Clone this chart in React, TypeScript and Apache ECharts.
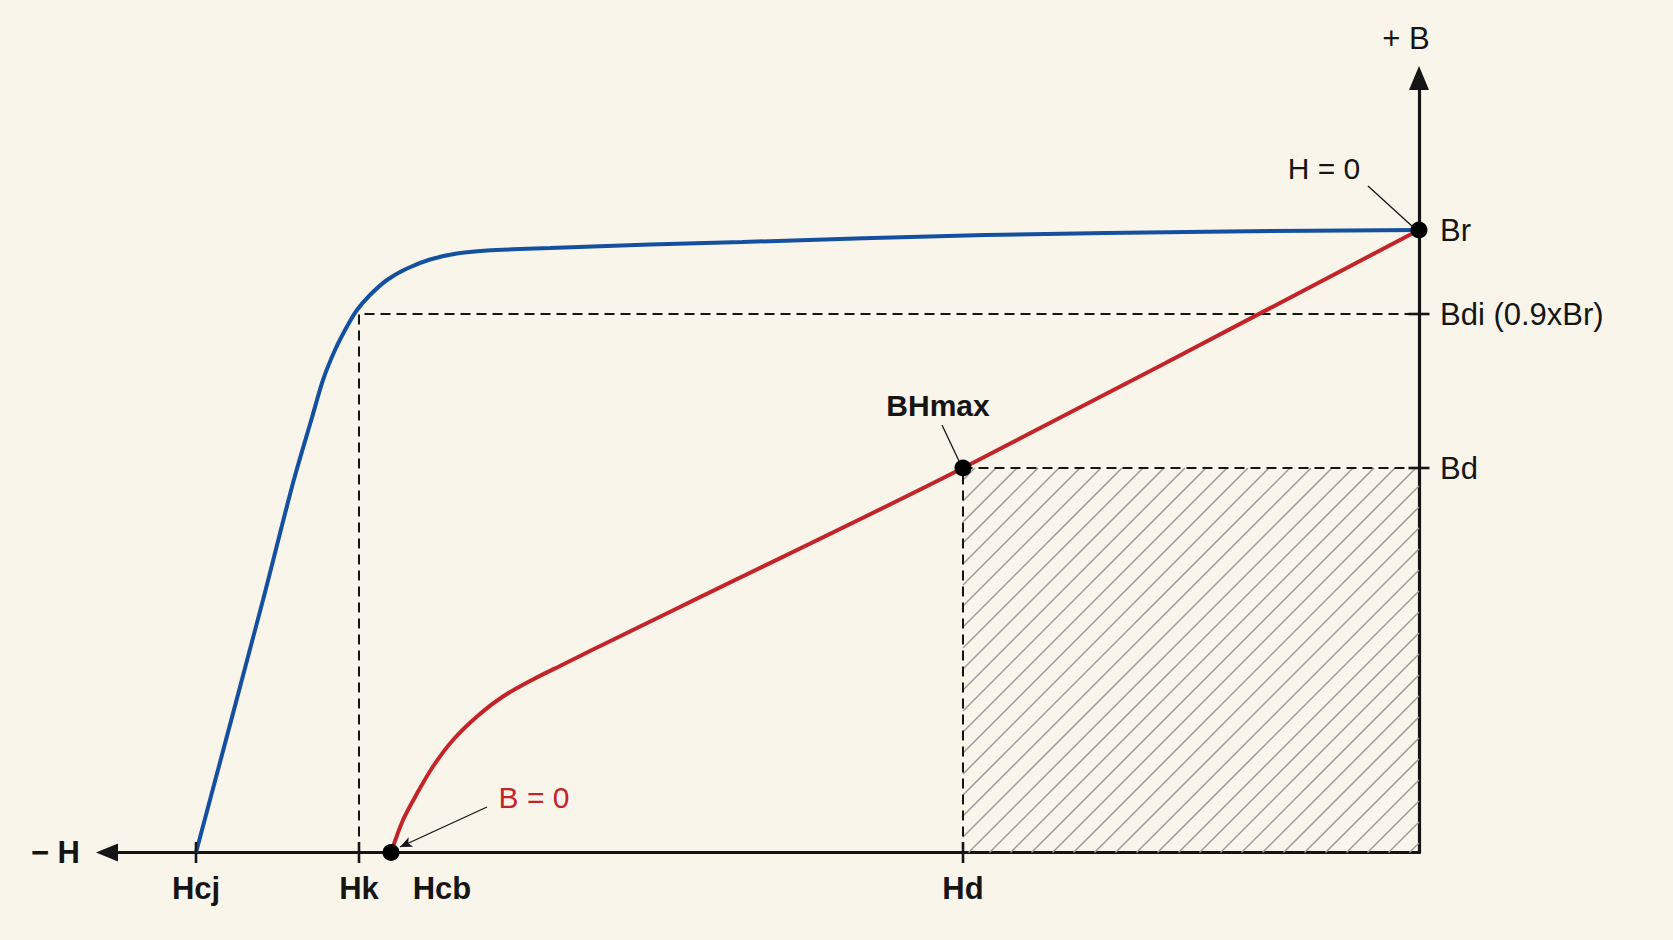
import { useEffect, useRef } from 'react';
import * as echarts from 'echarts';

// axis extents (H is negative to the left of the B axis)
const H_MIN = -1312;
const B_MAX = 774.5;

const hTickNames = ['Hcj', 'Hk', 'Hcb', 'Hd'];
const hTickValues = [-1223, -1060, -1028, -456];
const bTickNames = ['Br', 'Bdi (0.9xBr)', 'Bd'];
const bTickValues = [622.5, 538.5, 384.5];

// intrinsic curve (blue), Hcj -> Br
const intrinsicCurve: [number, number][] = [
  [-1223, 0], [-1156, 252.5], [-1126, 369.5], [-1107, 435], [-1096, 472.5],
  [-1084, 502.5], [-1072, 526], [-1062, 542.5], [-1049, 557.5], [-1032, 572.5],
  [-1012, 584], [-989, 593], [-962, 599], [-932, 602], [-899, 603.5],
  [-869, 604.5], [-769, 608], [-677, 610.5], [-434, 617.5], [-192, 621], [0, 622.5],
];

// normal curve (red), Hcb -> Br
const normalCurve: [number, number][] = [
  [-1028, 0], [-1016, 32.5], [-1002, 59], [-986, 86], [-966, 112.5],
  [-942, 136], [-916, 156], [-886, 173], [-856, 188], [-829, 201.5],
  [-736, 247], [-456, 384.5], [0, 622.5],
];

const INK = '#151515';
const BLUE = '#1450a0';
const RED = '#c3242a';
const BG = '#faf5ea';
const FONT = '"Liberation Sans", Arial, sans-serif';

export default function App() {
  const chartRef = useRef<HTMLDivElement>(null);

  useEffect(() => {
    if (!chartRef.current) return;
    const chart = echarts.init(chartRef.current, null, { renderer: 'svg' });

    const [Hcj, Hk, Hcb, Hd] = hTickValues;
    const [Br, Bdi, Bd] = bTickValues;

    const text = { fontFamily: FONT, color: INK, fontSize: 30 };

    const option: any = {
      backgroundColor: BG,
      animation: false,
      grid: { left: 107, right: 254, top: 78, bottom: 87.5 },
      xAxis: {
        type: 'value',
        min: H_MIN,
        max: 0,
        name: '\u2212 H',
        nameLocation: 'start',
        nameGap: 27,
        nameTextStyle: { ...text, fontSize: 31, fontWeight: 'bold' },
        axisLine: {
          show: true,
          onZero: false,
          symbol: ['triangle', 'none'],
          symbolSize: [18, 22],
          lineStyle: { color: INK, width: 3.2 },
        },
        axisTick: { show: false },
        splitLine: { show: false },
        axisLabel: {
          show: true,
          customValues: hTickValues,
          margin: 20,
          ...text,
          fontSize: 31,
          fontWeight: 'bold',
          formatter: (v: number) => {
            const name = hTickNames[hTickValues.indexOf(v)] ?? '';
            return name === 'Hcb' ? `{shift|${name}}` : name;
          },
          rich: {
            shift: { ...text, fontSize: 31, fontWeight: 'bold', padding: [0, 0, 0, 102] },
          },
        },
      },
      yAxis: {
        type: 'value',
        min: 0,
        max: B_MAX,
        position: 'right',
        name: '+ B',
        nameLocation: 'end',
        nameGap: 24,
        nameTextStyle: { ...text, fontSize: 31, padding: [0, 26, 0, 0] },
        axisLine: {
          show: true,
          onZero: false,
          symbol: ['none', 'triangle'],
          symbolSize: [20, 24],
          lineStyle: { color: INK, width: 3.2 },
        },
        axisTick: { show: false },
        splitLine: { show: false },
        axisLabel: {
          show: true,
          customValues: bTickValues,
          margin: 21,
          ...text,
          fontSize: 31,
          formatter: (v: number) => bTickNames[bTickValues.indexOf(v)] ?? '',
        },
      },
      series: [
        {
          // hatched BHmax energy rectangle
          type: 'custom',
          silent: true,
          clip: false,
          z: 1,
          data: [[Hd, Bd]],
          renderItem: (_params: any, api: any) => {
            const tl = api.coord([api.value(0), api.value(1)]);
            const br = api.coord([0, 0]);
            const [x0, y0] = tl;
            const [x1, y1] = br;
            const children: any[] = [];
            for (let c = x0 + y0 + 12; c < x1 + y1; c += 21) {
              const xa = Math.max(x0, c - y1);
              const xb = Math.min(x1, c - y0);
              if (xb <= xa) continue;
              children.push({
                type: 'line',
                shape: { x1: xa, y1: c - xa, x2: xb, y2: c - xb },
                style: { stroke: '#9c9c9c', lineWidth: 1.5 },
              });
            }
            return { type: 'group', children };
          },
        },
        {
          name: 'Hk guide',
          type: 'line',
          data: [[Hk, 0], [Hk, Bdi], [0, Bdi]],
          symbol: 'none',
          clip: false,
          silent: true,
          z: 2,
          lineStyle: { color: INK, width: 2, type: [10, 6] },
        },
        {
          name: 'Hd guide',
          type: 'line',
          data: [[Hd, 0], [Hd, Bd], [0, Bd]],
          symbol: 'none',
          clip: false,
          silent: true,
          z: 2,
          lineStyle: { color: INK, width: 2, type: [10, 6] },
        },
        {
          name: 'Intrinsic curve',
          type: 'line',
          data: intrinsicCurve,
          symbol: 'none',
          smooth: 0.3,
          clip: false,
          z: 3,
          lineStyle: { color: BLUE, width: 4 },
        },
        {
          name: 'Normal curve',
          type: 'line',
          data: normalCurve,
          symbol: 'none',
          smooth: 0.3,
          clip: false,
          z: 3,
          lineStyle: { color: RED, width: 4 },
        },
        {
          name: 'H ticks',
          type: 'scatter',
          data: [[Hcj, 0], [Hk, 0], [Hd, 0]],
          symbol: 'rect',
          symbolSize: [2.6, 21],
          clip: false,
          silent: true,
          z: 4,
          itemStyle: { color: INK, opacity: 1 },
        },
        {
          name: 'B ticks',
          type: 'scatter',
          data: [[0, Bdi], [0, Bd]],
          symbol: 'rect',
          symbolSize: [21, 2.6],
          clip: false,
          silent: true,
          z: 4,
          itemStyle: { color: INK, opacity: 1 },
        },
        {
          name: 'Key points',
          type: 'scatter',
          symbol: 'circle',
          symbolSize: 17,
          clip: false,
          silent: true,
          z: 5,
          itemStyle: { color: '#000', opacity: 1 },
          data: [
            {
              value: [0, Br],
              label: { show: true, position: 'inside', formatter: 'H = 0', offset: [-95, -62], ...text },
            },
            {
              value: [Hd, Bd],
              label: {
                show: true, position: 'inside', formatter: 'BHmax', offset: [-25, -63],
                ...text, fontWeight: 'bold',
              },
            },
            {
              value: [Hcb, 0],
              label: {
                show: true, position: 'inside', formatter: 'B = 0', offset: [143, -55],
                ...text, color: RED,
              },
            },
          ],
          markLine: {
            silent: true,
            symbol: ['none', 'none'],
            label: { show: false },
            lineStyle: { color: INK, width: 1.3, type: 'solid', opacity: 1 },
            data: [
              [{ coord: [-51, 666.5] }, { coord: [-6, 625.5] }],
              [{ coord: [-477, 427.5] }, { coord: [-460, 391.5] }],
              [
                { coord: [-932, 45.5], symbol: 'none' },
                { coord: [-1019, 5.5], symbol: 'arrow', symbolSize: [8, 12] },
              ],
            ],
          },
        },
      ],
    };

    chart.setOption(option);
    return () => chart.dispose();
  }, []);

  return (
    <div
      ref={chartRef}
      style={{ position: 'fixed', left: 0, top: 0, width: 1673, height: 940, background: BG }}
    />
  );
}
